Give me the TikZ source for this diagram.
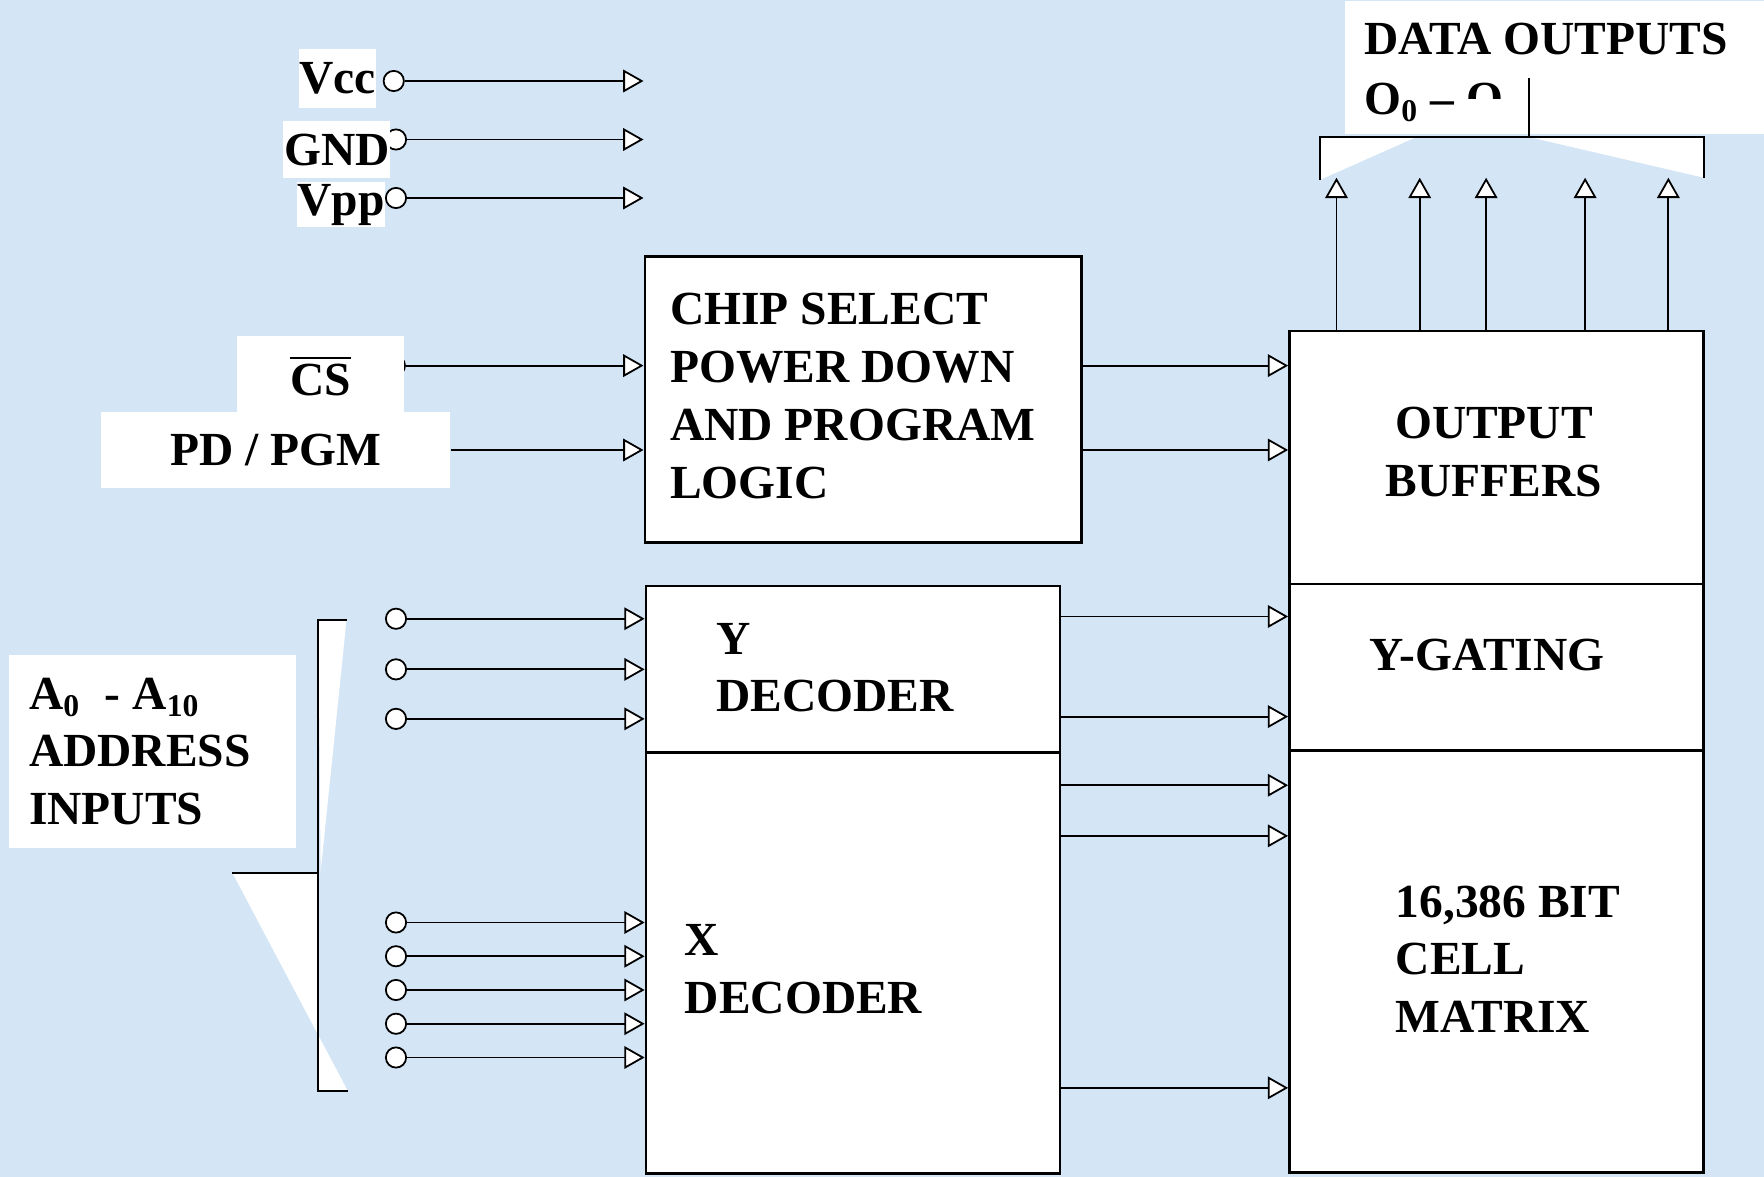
\documentclass[tikz,border=0pt]{standalone}
\usepackage{fontspec}
\setmainfont{Liberation Serif}
\usepackage{tikz}
\usetikzlibrary{positioning, arrows.meta, calc}
\definecolor{sfondo}{RGB}{212,229,246}

\begin{document}
\begin{tikzpicture}[
			x=0.01cm, y=-0.01cm,
			font=\fontsize{12}{14.6}\selectfont\bfseries,
			blk/.style={draw, fill=white, inner sep=0pt, line width=0.6pt},
			tag/.style={fill=white, inner sep=0pt},
			txt/.style={align=left, inner sep=0pt},
			pin/.style={circle, draw, fill=white, minimum size=0.18cm, inner sep=0pt},
			line width=0.45pt,
			>={Triangle[length=0.18cm, width=0.2cm, fill=white]}
			]
			% Sfondo
			\fill[sfondo] (0,0) rectangle (1568,1046);
			\useasboundingbox (0,0) rectangle (1568,1046);
			
			% Blocchi
			\node[blk, anchor=north west, minimum width=3.88cm, minimum height=2.54cm] (chip) at (572,227) {};
			\node[blk, anchor=north west, minimum width=3.68cm, minimum height=1.48cm] (ydec) at (573,520) {};
			\node[blk, anchor=north west, minimum width=3.68cm, minimum height=3.74cm] (xdec) at (573,668) {};
			\node[blk, anchor=north west, minimum width=3.68cm, minimum height=2.25cm] (obuf) at (1145,293) {};
			\node[blk, anchor=north west, minimum width=3.68cm, minimum height=1.48cm] (ygat) at (1145,518) {};
			\node[blk, anchor=north west, minimum width=3.68cm, minimum height=3.75cm] (cmat) at (1145,666) {};
			
			\node[txt, anchor=west] (chiptxt) at (595,352) {CHIP SELECT\\POWER DOWN\\AND PROGRAM\\LOGIC};
			\node[txt, anchor=west] (ytxt) at (636,593.5) {Y\\DECODER};
			\node[txt, anchor=west] (xtxt) at (608,861.5) {X\\DECODER};
			\node[txt, align=center] (otxt) at (1328,401.5) {OUTPUT\\BUFFERS};
			\node[txt] (gtxt) at (1322,582) {Y-GATING};
			\node[txt, anchor=west] (mtxt) at (1240,852.5) {16,386 BIT\\CELL\\MATRIX};
			
			% Alimentazione
			\node[pin] (pvcc) at (350,72) {};
			\node[pin] (pgnd) at (352,124) {};
			\node[pin] (pvpp) at (352,176) {};
			\node[pin] (pcs) at (351,325) {};
			\foreach \p in {pvcc, pgnd, pvpp, pcs}
				\draw[->] (\p) -- (\p -| chip.west);
			
			\node[tag, minimum width=0.68cm, minimum height=0.52cm] (vcc) at (300,70) {Vcc};
			\node[tag, minimum width=0.95cm, minimum height=0.50cm] (gnd) at (299.5,133) {GND};
			\node[tag, minimum width=0.78cm, minimum height=0.40cm] (vpp) at (303,182) {Vpp};
			\node[tag, minimum width=1.48cm, minimum height=0.70cm] (cs) at (285,334) {$\overline{\mbox{CS}}$};
			\node[tag, minimum width=3.10cm, minimum height=0.67cm] (pd) at (245,400) {PD / PGM};
			\draw[->] (pd.east) -- (pd.east -| chip.west);
			
			% Logica -> buffer
			\draw[->] (chip.east |- pcs) -- (obuf.west |- pcs);
			\draw[->] (chip.east |- pd) -- (obuf.west |- pd);
			
			% Ingressi di indirizzo
			\fill[white] (283,551) -- (308,551) -- (285,775) -- cycle;
			\fill[white] (206.5,775.7) -- (283,775.7) -- (283,969.5) -- (309,969.5) -- cycle;
			\draw (308,551) -- (283,551) -- (283,969.5) -- (309,969.5);
			\draw (206.5,775.7) -- (283,775.7);
			\node[tag, anchor=north west, minimum width=2.55cm, minimum height=1.72cm] (abox) at (7,581) {};
			\node[txt, anchor=west] (atxt) at (25,668) {A\textsubscript{0}\ \ - A\textsubscript{10}\\ADDRESS\\INPUTS};
			\foreach \yy [count=\i] in {550,595,639,820,850,880,910,940} {
				\node[pin] (a\i) at (352,\yy) {};
				\draw[->] (a\i) -- (a\i -| ydec.west);
			}
			
			% Decoder -> matrice
			\foreach \yy in {548,637}
				\draw[->] (ydec.east |- 0,\yy) -- (ygat.west |- 0,\yy);
			\foreach \yy in {698,743,967}
				\draw[->] (xdec.east |- 0,\yy) -- (cmat.west |- 0,\yy);
			
			% Uscite dati
			\coordinate (dtop) at (0,158);
			\foreach \xx in {1188,1262,1321,1409,1483}
				\draw[->] (\xx,0 |- obuf.north) -- (\xx,0 |- dtop);
			\node[tag, anchor=north west, minimum width=3.73cm, minimum height=1.18cm] (dbox) at (1195,0) {};
			\fill[white] (1173,121.8) -- (1259,121.8) -- (1173,160) -- cycle;
			\fill[white] (1359,121.8) -- (1514.7,121.8) -- (1514.7,158) -- cycle;
			\draw (1173,160) -- (1173,121.8) -- (1514.7,121.8) -- (1514.7,158);
			\draw (1359,121.8) -- (1359,69);
			\node[txt, anchor=west] (dtxt) at (1212,35) {DATA OUTPUTS};
			\node[txt, anchor=base west] (otxt) at (1212,102) {O\textsubscript{0} -- O};
			\fill[white] ($(otxt.base east)+(-35,3)$) rectangle ($(otxt.base east)+(2,-14)$);
			
		\end{tikzpicture}
\end{document}
